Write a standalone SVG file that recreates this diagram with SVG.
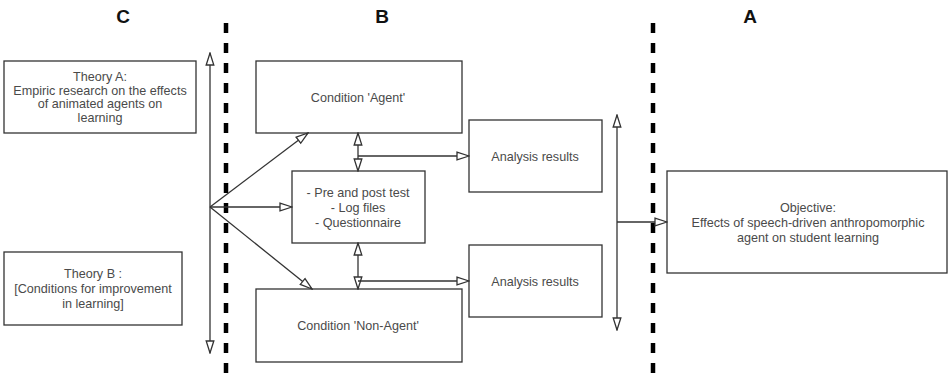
<svg xmlns="http://www.w3.org/2000/svg" width="948" height="379" viewBox="0 0 948 379">
<defs>
<style>
.box{fill:#fff;stroke:#333;stroke-width:1.3}
.t{font-family:"Liberation Sans",Arial,sans-serif;font-size:12.6px;fill:#4a4a4a;text-anchor:middle}
.h{font-family:"Liberation Sans",Arial,sans-serif;font-size:19px;font-weight:bold;fill:#111;text-anchor:middle}
.c{stroke:#333;stroke-width:1.3;fill:none}
.d{stroke:#000;stroke-width:4.5;stroke-dasharray:10 10;fill:none}
</style>
<marker id="ah" viewBox="0 0 14 10" refX="13" refY="5" markerWidth="14" markerHeight="10" markerUnits="userSpaceOnUse" orient="auto-start-reverse">
<path d="M1,1.2 L13,5 L1,8.8 z" fill="#fff" stroke="#333" stroke-width="1.3"/>
</marker>
</defs>
<rect width="948" height="379" fill="#fff"/>
<g id="headers">
<text class="h" x="123" y="23">C</text>
<text class="h" x="382" y="23">B</text>
<text class="h" x="750" y="23">A</text>
</g>
<g id="dividers">
<line class="d" x1="226" y1="23" x2="226" y2="379"/>
<line class="d" x1="653" y1="23" x2="653" y2="379"/>
</g>
<g id="theoryA">
<rect class="box" x="4" y="61" width="192" height="72"/>
<text class="t" x="100" y="80.5">Theory A:</text>
<text class="t" x="100" y="94.5">Empiric research on the effects</text>
<text class="t" x="100" y="108">of animated agents on</text>
<text class="t" x="100" y="122">learning</text>
</g>
<g id="theoryB">
<rect class="box" x="4" y="252" width="178" height="73"/>
<text class="t" x="93" y="277.5">Theory B :</text>
<text class="t" x="93" y="293">[Conditions for improvement</text>
<text class="t" x="93" y="307.5">in learning]</text>
</g>
<g id="condAgent">
<rect class="box" x="256" y="61" width="206" height="72"/>
<text class="t" x="358" y="101.5">Condition 'Agent'</text>
</g>
<g id="measures">
<rect class="box" x="292" y="171" width="133" height="72"/>
<text class="t" x="358" y="196.5">- Pre and post test</text>
<text class="t" x="358" y="211.5">- Log files</text>
<text class="t" x="358" y="226.5">- Questionnaire</text>
</g>
<g id="condNonAgent">
<rect class="box" x="256" y="289" width="206" height="73"/>
<text class="t" x="358" y="329.5">Condition 'Non-Agent'</text>
</g>
<g id="analysis1">
<rect class="box" x="469" y="120" width="133" height="72"/>
<text class="t" x="535" y="160.5">Analysis results</text>
</g>
<g id="analysis2">
<rect class="box" x="469" y="245" width="133" height="72"/>
<text class="t" x="535" y="285.5">Analysis results</text>
</g>
<g id="objective">
<rect class="box" x="667" y="171" width="280" height="102"/>
<text class="t" x="808" y="211.5">Objective:</text>
<text class="t" x="808" y="226.5">Effects of speech-driven anthropomorphic</text>
<text class="t" x="808" y="241.5">agent on student learning</text>
</g>
<g id="connectors">
<line class="c" x1="210" y1="53" x2="210" y2="353" marker-start="url(#ah)" marker-end="url(#ah)"/>
<line class="c" x1="210" y1="207" x2="308" y2="133" marker-end="url(#ah)"/>
<line class="c" x1="210" y1="207" x2="292" y2="207" marker-end="url(#ah)"/>
<line class="c" x1="210" y1="207" x2="312" y2="289" marker-end="url(#ah)"/>
<line class="c" x1="358" y1="133" x2="358" y2="171" marker-start="url(#ah)" marker-end="url(#ah)"/>
<line class="c" x1="358" y1="156" x2="469" y2="156" marker-end="url(#ah)"/>
<line class="c" x1="358" y1="243" x2="358" y2="289" marker-start="url(#ah)" marker-end="url(#ah)"/>
<line class="c" x1="358" y1="281" x2="469" y2="281" marker-end="url(#ah)"/>
<line class="c" x1="617" y1="115" x2="617" y2="330" marker-start="url(#ah)" marker-end="url(#ah)"/>
<line class="c" x1="617" y1="222" x2="667" y2="222" marker-end="url(#ah)"/>
</g>
</svg>
